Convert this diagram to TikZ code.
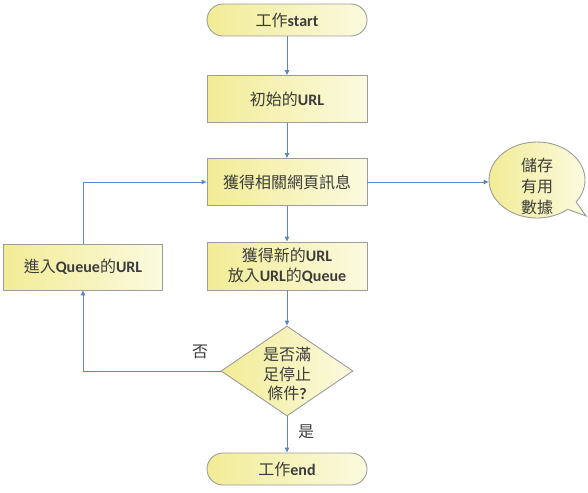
\documentclass[tikz,border=0pt]{standalone}
\usepackage{fontspec}
\setmainfont{Carlito}
\newfontfamily\cjk{Noto Sans CJK TC}
\usetikzlibrary{shapes.geometric,shapes.callouts,arrows.meta}
\definecolor{fillA}{HTML}{F2EC96}
\definecolor{fillB}{HTML}{FBFADF}
\definecolor{edge}{HTML}{9C9C9C}
\definecolor{conn}{HTML}{5B87C5}
\definecolor{txt}{HTML}{3C3C3C}
\tikzset{
  base/.style={draw=edge, line width=0.9pt, left color=fillA, right color=fillB, text=txt,
    font=\fontsize{16}{19}\selectfont\cjk, align=center, inner sep=0pt},
  termbox/.style={base, rectangle, rounded corners=16pt, minimum width=160pt, minimum height=32pt},
  procbox/.style={base, rectangle, minimum width=160pt, minimum height=47pt},
  decbox/.style={base, diamond, minimum width=132pt, minimum height=90pt},
  callbox/.style={base, ellipse callout, minimum width=96pt, minimum height=76pt},
  plain/.style={text=txt, font=\fontsize{16}{19}\selectfont\cjk, align=center, inner sep=0pt},
  conn/.style={draw=conn, line width=0.9pt, -{Triangle[length=5pt,width=4.5pt]}},
}
\newcommand{\lat}[1]{{\fontspec{Carlito}\bfseries #1}}
\begin{document}
\begin{tikzpicture}[x=1pt,y=-1pt]
\useasboundingbox (0,0) rectangle (588,492);
\node[termbox] (start) at (287,20) {工作\lat{start}};
\node[procbox] (init) at (287,99) {初始的\lat{URL}};
\node[procbox] (get) at (287,182) {獲得相關網頁訊息};
\node[procbox, minimum height=48pt] (new) at (287,266) {獲得新的\lat{URL}\\[1pt]放入\lat{URL}的\lat{Queue}};
\node[procbox, minimum width=159pt, minimum height=46pt] (queue) at (83,267) {進入\lat{Queue}的\lat{URL}};
\node[decbox] (dec) at (287,371) {};
\node[plain, font=\fontsize{16}{19.5}\selectfont\cjk] (dectext) at (287,374) {是否滿\\足停止\\條件\lat{?}};
\node[termbox] (end) at (287,469) {工作\lat{end}};
\node[callbox, callout absolute pointer={(586,216)}] (store) at (537,180) {};
\node[plain, font=\fontsize{16}{21}\selectfont\cjk] (storetext) at (537,186) {儲存\\有用\\數據};
\node[plain] (no) at (200,352) {否};
\node[plain] (yes) at (306,432) {是};
\draw[conn] (start) -- (init);
\draw[conn] (init) -- (get);
\draw[conn] (get) -- (new);
\draw[conn] (new) -- (dec.north);
\draw[conn] (dec.south) -- (end);
\draw[conn] (get.east) -- (get.east -| store.west);
\draw[conn] (dec.west) -| (queue.south);
\draw[conn] (queue.north) |- (get.west);
\end{tikzpicture}
\end{document}
